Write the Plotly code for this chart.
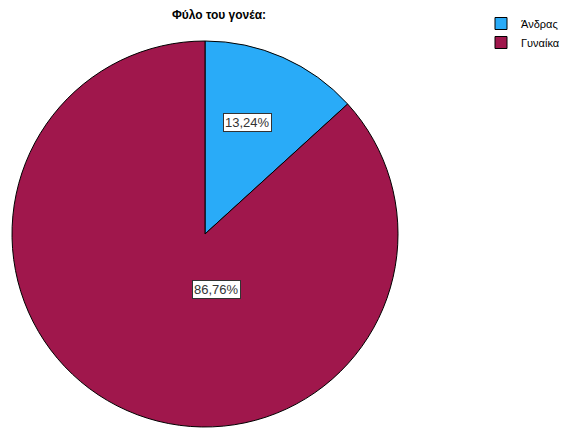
import plotly.graph_objects as go

labels = ["Άνδρας", "Γυναίκα"]
values = [13.24, 86.76]
colors = ["#29ABF8", "#A0174C"]
text_labels = ["13,24%", "86,76%"]

W, H = 568, 428
cx, cy, r = 205, 234, 193

fig = go.Figure(go.Pie(
    labels=labels, values=values, sort=False, direction="clockwise", rotation=0,
    marker=dict(colors=colors, line=dict(color="#000000", width=1)),
    textinfo="none", hoverinfo="label+percent",
    domain=dict(x=[(cx - r) / W, (cx + r) / W], y=[(H - cy - r) / H, (H - cy + r) / H]),
))

label_pos = [(248, 113), (216, 299)]
for t, (x, y) in zip(text_labels, label_pos):
    fig.add_annotation(x=x / W, y=1 - y / H, xref="paper", yref="paper", text=t,
                       showarrow=False, bgcolor="white", bordercolor="#333333", borderwidth=1,
                       borderpad=1, font=dict(family="Liberation Sans, Arial", size=13, color="#333333"))

fig.update_layout(
    width=W, height=H, margin=dict(l=0, r=0, t=0, b=0, autoexpand=False),
    paper_bgcolor="white", plot_bgcolor="white",
    title=dict(text="<b>Φύλο του γονέα:</b>", x=219 / W, xanchor="center", y=1 - 15 / H, yanchor="middle",
               font=dict(family="Liberation Sans, Arial", size=12, color="#000000")),
    legend=dict(x=481 / W, y=1 - 9 / H, xanchor="left", yanchor="top",
                font=dict(family="Liberation Sans, Arial", size=11, color="#000000"),
                itemwidth=30, tracegroupgap=0),
)

fig.write_html("out.html")
